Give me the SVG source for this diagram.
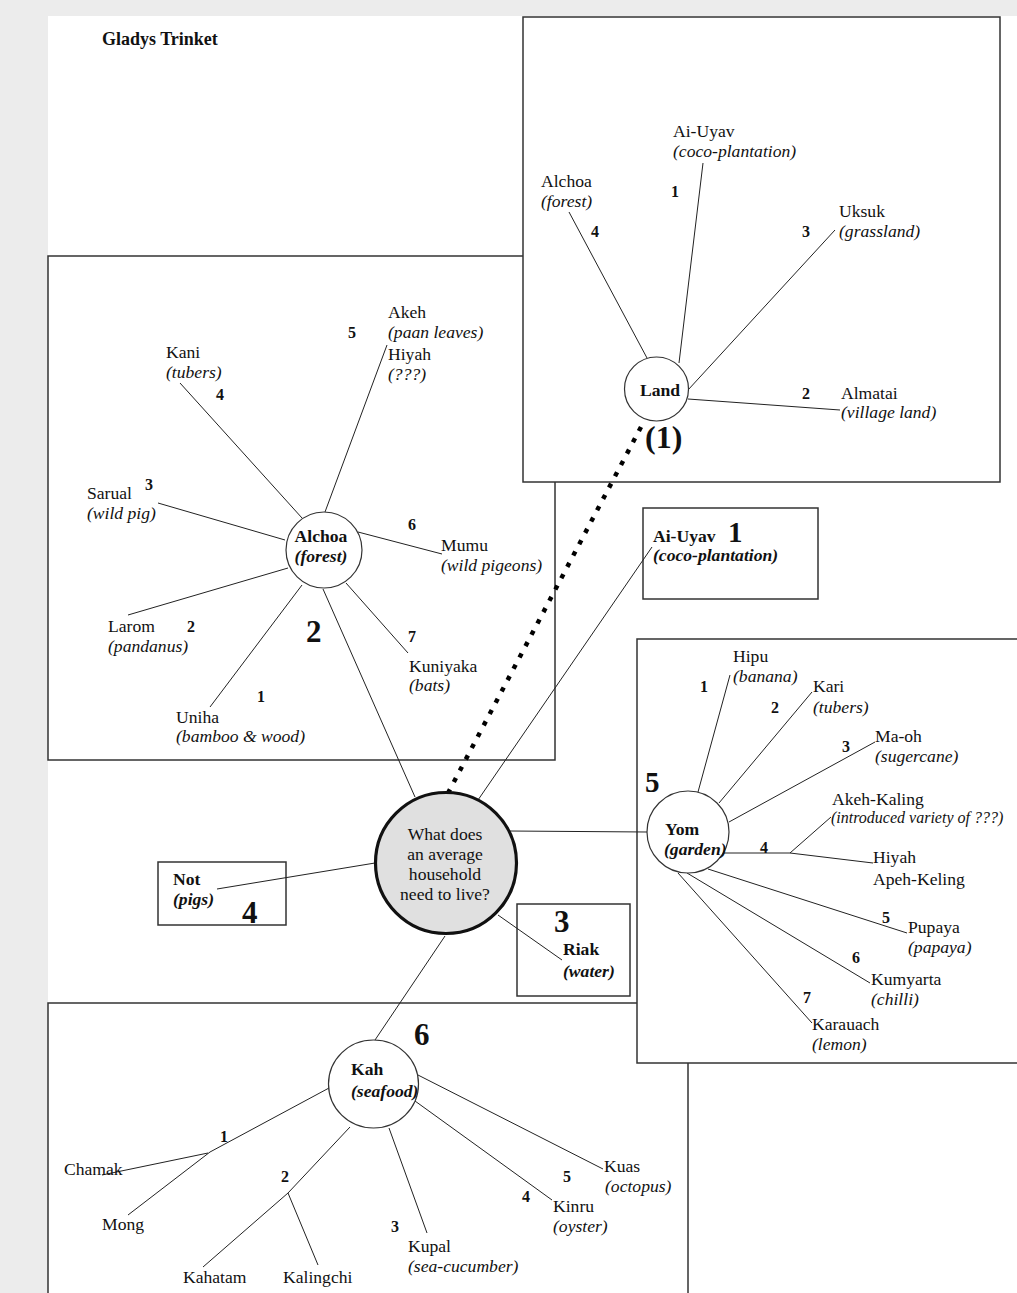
<svg xmlns="http://www.w3.org/2000/svg" width="1017" height="1293" viewBox="0 0 1017 1293">
<style>
text{font-family:"Liberation Serif","Times New Roman",serif;font-size:17.6px;fill:#111}
.i{font-style:italic}
.b{font-weight:bold}
.bi{font-weight:bold;font-style:italic}
.n{font-weight:bold;font-size:16px}
.big{font-weight:bold;font-size:31px}
.c{text-anchor:middle}
.box{fill:#fff;stroke:#333;stroke-width:1.5}
.ln{fill:none;stroke:#222;stroke-width:1}
.nd{fill:#fff;stroke:#333;stroke-width:1.2}
</style>
<rect x="0" y="0" width="1017" height="1293" fill="#ececec"/>
<rect x="48" y="16" width="969" height="1277" fill="#fff"/>
<text x="102" y="45" class="b" style="font-size:18px">Gladys Trinket</text>

<g id="frames">
<rect class="box" x="48" y="256" width="507" height="504"/>
<rect class="box" x="523" y="17" width="477" height="465"/>
<rect class="box" x="48" y="1003" width="640" height="320"/>
<rect class="box" x="637" y="639" width="420" height="424"/>
<rect class="box" x="643" y="508" width="175" height="91"/>
<rect class="box" x="158" y="862" width="128" height="63"/>
<rect class="box" x="517" y="904" width="113" height="92"/>
</g>

<g id="connectors">
<line x1="641" y1="427" x2="447" y2="795" stroke="#000" stroke-width="4.5" stroke-dasharray="4.5 8.3"/>
<line class="ln" x1="647" y1="358" x2="569" y2="212"/>
<line class="ln" x1="679" y1="363" x2="703" y2="163"/>
<line class="ln" x1="688" y1="390" x2="835" y2="230"/>
<line class="ln" x1="688" y1="399" x2="840" y2="410"/>
<line class="ln" x1="302" y1="518" x2="180" y2="383"/>
<line class="ln" x1="325" y1="512" x2="387" y2="345"/>
<line class="ln" x1="285" y1="540" x2="158" y2="503"/>
<line class="ln" x1="358" y1="532" x2="442" y2="554"/>
<line class="ln" x1="288" y1="568" x2="128" y2="615"/>
<line class="ln" x1="302" y1="585" x2="210" y2="707"/>
<line class="ln" x1="346" y1="583" x2="408" y2="653"/>
<line class="ln" x1="323" y1="589" x2="415" y2="797"/>
<line class="ln" x1="478" y1="800" x2="652" y2="547"/>
<line class="ln" x1="509" y1="831" x2="647" y2="832"/>
<line class="ln" x1="375" y1="863" x2="217" y2="889"/>
<line class="ln" x1="498" y1="915" x2="562" y2="960"/>
<line class="ln" x1="445" y1="936" x2="375" y2="1040"/>
<line class="ln" x1="698" y1="792" x2="730" y2="675"/>
<line class="ln" x1="719" y1="803" x2="812" y2="692"/>
<line class="ln" x1="729" y1="822" x2="875" y2="742"/>
<polyline class="ln" points="724,853 790,853 873,863"/>
<line class="ln" x1="790" y1="853" x2="831" y2="817"/>
<line class="ln" x1="708" y1="869" x2="907" y2="933"/>
<line class="ln" x1="687" y1="873" x2="870" y2="983"/>
<line class="ln" x1="678" y1="873" x2="812" y2="1023"/>
<polyline class="ln" points="329,1088 210,1152 128,1215"/>
<line class="ln" x1="208" y1="1153" x2="102" y2="1175"/>
<polyline class="ln" points="350,1127 288,1193 203,1267"/>
<line class="ln" x1="288" y1="1193" x2="318" y2="1265"/>
<line class="ln" x1="389" y1="1128" x2="427" y2="1233"/>
<line class="ln" x1="415" y1="1101" x2="552" y2="1200"/>
<line class="ln" x1="416" y1="1074" x2="603" y2="1169"/>
</g>

<g id="land">
<circle class="nd" cx="656.5" cy="389" r="32"/>
<text x="660" y="396" class="b c">Land</text>
<text x="645" y="448" class="b" style="font-size:32px">(1)</text>
</g>
<g id="land-aiuyav"><text x="673" y="137">Ai-Uyav</text><text x="673" y="157" class="i">(coco-plantation)</text><text x="671" y="197" class="n">1</text></g>
<g id="land-alchoa"><text x="541" y="187">Alchoa</text><text x="541" y="207" class="i">(forest)</text><text x="591" y="237" class="n">4</text></g>
<g id="land-uksuk"><text x="839" y="217">Uksuk</text><text x="839" y="237" class="i">(grassland)</text><text x="802" y="237" class="n">3</text></g>
<g id="land-almatai"><text x="841" y="399">Almatai</text><text x="841" y="418" class="i">(village land)</text><text x="802" y="399" class="n">2</text></g>

<g id="forest">
<circle class="nd" cx="324" cy="550" r="38"/>
<text x="321" y="542" class="b c">Alchoa</text>
<text x="321" y="562" class="bi c">(forest)</text>
<text x="306" y="642" class="big">2</text>
</g>
<g id="forest-akeh"><text x="388" y="318">Akeh</text><text x="388" y="338" class="i">(paan leaves)</text><text x="388" y="360">Hiyah</text><text x="388" y="380" class="i">(???)</text><text x="348" y="338" class="n">5</text></g>
<g id="forest-kani"><text x="166" y="358">Kani</text><text x="166" y="378" class="i">(tubers)</text><text x="216" y="400" class="n">4</text></g>
<g id="forest-sarual"><text x="87" y="499">Sarual</text><text x="87" y="519" class="i">(wild pig)</text><text x="145" y="490" class="n">3</text></g>
<g id="forest-mumu"><text x="441" y="551">Mumu</text><text x="441" y="571" class="i">(wild pigeons)</text><text x="408" y="530" class="n">6</text></g>
<g id="forest-larom"><text x="108" y="632">Larom</text><text x="108" y="652" class="i">(pandanus)</text><text x="187" y="632" class="n">2</text></g>
<g id="forest-kuniyaka"><text x="409" y="672">Kuniyaka</text><text x="409" y="691" class="i">(bats)</text><text x="408" y="642" class="n">7</text></g>
<g id="forest-uniha"><text x="176" y="723">Uniha</text><text x="176" y="742" class="i">(bamboo &amp; wood)</text><text x="257" y="702" class="n">1</text></g>

<g id="centre">
<circle cx="446" cy="863" r="70.5" fill="#e0e0e0" stroke="#111" stroke-width="3.2"/>
<text x="445" y="840" class="c">What does</text>
<text x="445" y="860" class="c">an average</text>
<text x="445" y="880" class="c">household</text>
<text x="445" y="900" class="c">need to live?</text>
</g>

<g id="aiuyav"><text x="653" y="542" class="b">Ai-Uyav</text><text x="728" y="542" class="big" style="font-size:29px">1</text><text x="653" y="561" class="bi">(coco-plantation)</text></g>
<g id="not"><text x="173" y="885" class="b">Not</text><text x="173" y="905" class="bi">(pigs)</text><text x="242" y="923" class="big">4</text></g>
<g id="riak"><text x="554" y="932" class="big">3</text><text x="563" y="955" class="b">Riak</text><text x="563" y="977" class="bi">(water)</text></g>

<g id="garden">
<circle class="nd" cx="688" cy="832" r="41"/>
<text x="665" y="835" class="b">Yom</text>
<text x="664" y="855" class="bi">(garden)</text>
<text x="645" y="792" class="big" style="font-size:29px">5</text>
</g>
<g id="garden-hipu"><text x="733" y="662">Hipu</text><text x="733" y="682" class="i">(banana)</text><text x="700" y="692" class="n">1</text></g>
<g id="garden-kari"><text x="813" y="692">Kari</text><text x="813" y="713" class="i">(tubers)</text><text x="771" y="713" class="n">2</text></g>
<g id="garden-maoh"><text x="875" y="742">Ma-oh</text><text x="875" y="762" class="i">(sugercane)</text><text x="842" y="752" class="n">3</text></g>
<g id="garden-akehkaling"><text x="832" y="805">Akeh-Kaling</text><text x="831" y="823" class="i" style="font-size:16px">(introduced variety of ???)</text></g>
<g id="garden-hiyah"><text x="873" y="863">Hiyah</text><text x="873" y="885">Apeh-Keling</text><text x="760" y="853" class="n">4</text></g>
<g id="garden-pupaya"><text x="908" y="933">Pupaya</text><text x="908" y="953" class="i">(papaya)</text><text x="882" y="923" class="n">5</text></g>
<g id="garden-kumyarta"><text x="871" y="985">Kumyarta</text><text x="871" y="1005" class="i">(chilli)</text><text x="852" y="963" class="n">6</text></g>
<g id="garden-karauach"><text x="812" y="1030">Karauach</text><text x="812" y="1050" class="i">(lemon)</text><text x="803" y="1003" class="n">7</text></g>

<g id="seafood">
<ellipse class="nd" cx="373.5" cy="1084" rx="45" ry="44"/>
<text x="351" y="1075" class="b">Kah</text>
<text x="351" y="1097" class="bi">(seafood)</text>
<text x="414" y="1045" class="big">6</text>
</g>
<g id="seafood-chamak"><text x="64" y="1175">Chamak</text><text x="102" y="1230">Mong</text><text x="220" y="1142" class="n">1</text></g>
<g id="seafood-kahatam"><text x="183" y="1283">Kahatam</text><text x="283" y="1283">Kalingchi</text><text x="281" y="1182" class="n">2</text></g>
<g id="seafood-kupal"><text x="408" y="1252">Kupal</text><text x="408" y="1272" class="i">(sea-cucumber)</text><text x="391" y="1232" class="n">3</text></g>
<g id="seafood-kinru"><text x="553" y="1212">Kinru</text><text x="553" y="1232" class="i">(oyster)</text><text x="522" y="1202" class="n">4</text></g>
<g id="seafood-kuas"><text x="604" y="1172">Kuas</text><text x="605" y="1192" class="i">(octopus)</text><text x="563" y="1182" class="n">5</text></g>
</svg>
